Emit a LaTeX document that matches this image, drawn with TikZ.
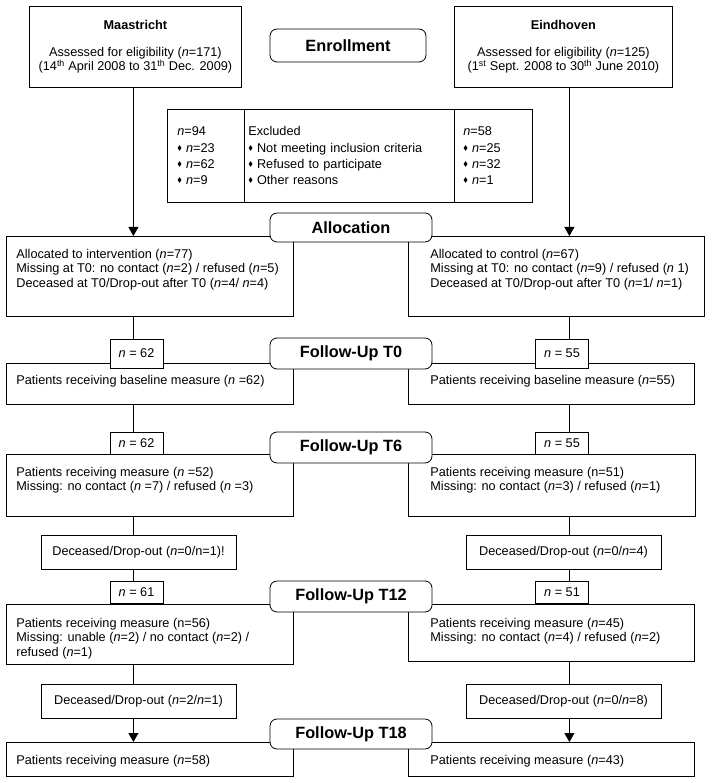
\documentclass[tikz,border=0pt]{standalone}
\usepackage{fontspec}
\setmainfont{Liberation Sans}
\usepackage{amssymb}
\usepackage{graphicx}
\usetikzlibrary{arrows.meta,positioning}
\newcommand{\dmd}{\raisebox{0.3ex}{\scalebox{0.55}{$\blacklozenge$}}\hspace{4pt}}
\newcommand{\nn}{\textit{n}}

\begin{document}
\begin{tikzpicture}[
  x=1pt, y=-1pt,
  font=\fontsize{12.7}{14.2}\selectfont,
  line width=0.8pt,
  box/.style={draw, fill=white, anchor=north west, inner sep=0pt},
  txt/.style={anchor=north west, align=left, inner sep=0pt},
  cell/.style={draw, anchor=north west, minimum height=93pt, align=left, font=\fontsize{12.7}{16.3}\selectfont},
  phase/.style={draw, fill=white, rounded corners=7pt, minimum width=162pt, minimum height=30pt, inner sep=0pt, font=\fontsize{16.3}{18}\selectfont\bfseries},
  nbox/.style={draw, fill=white, minimum width=53pt, minimum height=22pt, inner sep=0pt},
  drop/.style={draw, fill=white, minimum width=195pt, minimum height=34pt},
  flow/.style={-{Triangle[width=10pt,length=9pt]}}
]
\useasboundingbox (0,0) rectangle (719,783);

% sites
\node[box, align=center, minimum width=212pt, minimum height=81pt] (mas) at (29,6) {\textbf{Maastricht}\\[13pt]Assessed for eligibility (\nn=171)\\(14\textsuperscript{th} April 2008 to 31\textsuperscript{th} Dec. 2009)};
\node[box, align=center, minimum width=218pt, minimum height=81pt] (ein) at (454,6) {\textbf{Eindhoven}\\[13pt]Assessed for eligibility (\nn=125)\\(1\textsuperscript{st} Sept. 2008 to 30\textsuperscript{th} June 2010)};

% excluded
\node[cell, minimum width=77pt, inner xsep=10pt, text width=57pt] (exL) at (167,109) {\nn=94\\\dmd\nn=23\\\dmd\nn=62\\\dmd\nn=9};
\node[cell, minimum width=210pt, inner xsep=4pt, text width=202pt] (exM) at (244,109) {Excluded\\\dmd Not meeting inclusion criteria\\\dmd Refused to participate\\\dmd Other reasons};
\node[cell, minimum width=78pt, inner xsep=9pt, text width=60pt] (exR) at (454,109) {\nn=58\\\dmd\nn=25\\\dmd\nn=32\\\dmd\nn=1};

% allocation
\node[box, minimum width=287pt, minimum height=80pt] (allocL) at (6,236) {};
\node[txt] (allocLt) at (16,249) {Allocated to intervention (\nn=77)\\Missing at T0: no contact (\nn=2) / refused (\nn=5)\\Deceased at T0/Drop-out after T0 (\nn=4/ \nn=4)};
\node[box, minimum width=296pt, minimum height=80pt] (allocR) at (408,236) {};
\node[txt] (allocRt) at (430,249) {Allocated to control (\nn=67)\\Missing at T0: no contact (\nn=9) / refused (\nn{} 1)\\Deceased at T0/Drop-out after T0 (\nn=1/ \nn=1)};

% follow-up T0
\node[box, minimum width=287pt, minimum height=41pt] (t0L) at (6,363) {};
\node[txt] (t0Lt) at (16,375) {Patients receiving baseline measure (\nn{} =62)};
\node[box, minimum width=286pt, minimum height=41pt] (t0R) at (408,363) {};
\node[txt] (t0Rt) at (430,375) {Patients receiving baseline measure (\nn=55)};

% follow-up T6
\node[box, minimum width=287pt, minimum height=62pt] (t6L) at (6,454) {};
\node[txt] (t6Lt) at (16,467) {Patients receiving measure (\nn{} =52)\\Missing: no contact (\nn{} =7) / refused (\nn{} =3)};
\node[box, minimum width=287pt, minimum height=62pt] (t6R) at (408,454) {};
\node[txt] (t6Rt) at (430,467) {Patients receiving measure (n=51)\\Missing: no contact (\nn=3) / refused (\nn=1)};

% follow-up T12
\node[box, minimum width=287pt, minimum height=60pt] (t12L) at (6,604) {};
\node[txt] (t12Lt) at (16,618) {Patients receiving measure (n=56)\\Missing: unable (\nn=2) / no contact (\nn=2) /\\refused (\nn=1)};
\node[box, minimum width=286pt, minimum height=57pt] (t12R) at (408,604) {};
\node[txt] (t12Rt) at (430,618) {Patients receiving measure (\nn=45)\\Missing: no contact (\nn=4) / refused (\nn=2)};

% follow-up T18
\node[box, minimum width=287pt, minimum height=34pt] (t18L) at (6,742) {};
\node[txt] (t18Lt) at (16,755) {Patients receiving measure (\nn=58)};
\node[box, minimum width=286pt, minimum height=34pt] (t18R) at (408,742) {};
\node[txt] (t18Rt) at (430,755) {Patients receiving measure (\nn=43)};

% phase labels
\node[phase, minimum width=156pt, minimum height=33pt] (enrol) at (348,45.5) {Enrollment};
\node[phase, minimum height=29pt] (alloc) at (351,227.5) {Allocation};
\node[phase, minimum height=31pt] (fu0) at (351,353.5) {Follow-Up T0};
\node[phase, minimum height=31pt] (fu6) at (351,447.5) {Follow-Up T6};
\node[phase, minimum height=31pt] (fu12) at (351,596.5) {Follow-Up T12};
\node[phase, minimum height=30pt] (fu18) at (351,734) {Follow-Up T18};

% counts
\node[nbox, minimum height=29pt] (n0L) at (136.5,353.5) {\nn{} = 62};
\node[nbox, minimum height=29pt] (n0R) at (562,353.5) {\nn{} = 55};
\node[nbox] (n6L) at (136.5,443) {\nn{} = 62};
\node[nbox] (n6R) at (562,443) {\nn{} = 55};
\node[nbox] (n12L) at (136.5,592.5) {\nn{} = 61};
\node[nbox] (n12R) at (562,592.5) {\nn{} = 51};

% drop-outs
\node[drop] (d6L) at (138.5,552) {Deceased/Drop-out (\nn=0/n=1)!};
\node[drop] (d6R) at (563.5,552) {Deceased/Drop-out (\nn=0/\nn=4)};
\node[drop] (d12L) at (138.5,701) {Deceased/Drop-out (\nn=2/\nn=1)};
\node[drop] (d12R) at (563.5,701) {Deceased/Drop-out (\nn=0/\nn=8)};

% connectors
\coordinate (colL) at ([xshift=-2pt]mas.south);
\coordinate (colR) at ([xshift=6pt]ein.south);
\draw[flow] (mas.south -| colL) -- (allocL.north -| colL);
\draw[flow] (ein.south -| colR) -- (allocR.north -| colR);
\foreach \s in {L,R} {
  \draw (alloc\s.south -| col\s) -- (n0\s.north -| col\s);
  \draw (t0\s.south -| col\s) -- (n6\s.north -| col\s);
  \draw (t6\s.south -| col\s) -- (d6\s.north -| col\s);
  \draw (d6\s.south -| col\s) -- (n12\s.north -| col\s);
  \draw (t12\s.south -| col\s) -- (d12\s.north -| col\s);
  \draw[flow] (d12\s.south -| col\s) -- (t18\s.north -| col\s);
}
\end{tikzpicture}
\end{document}
